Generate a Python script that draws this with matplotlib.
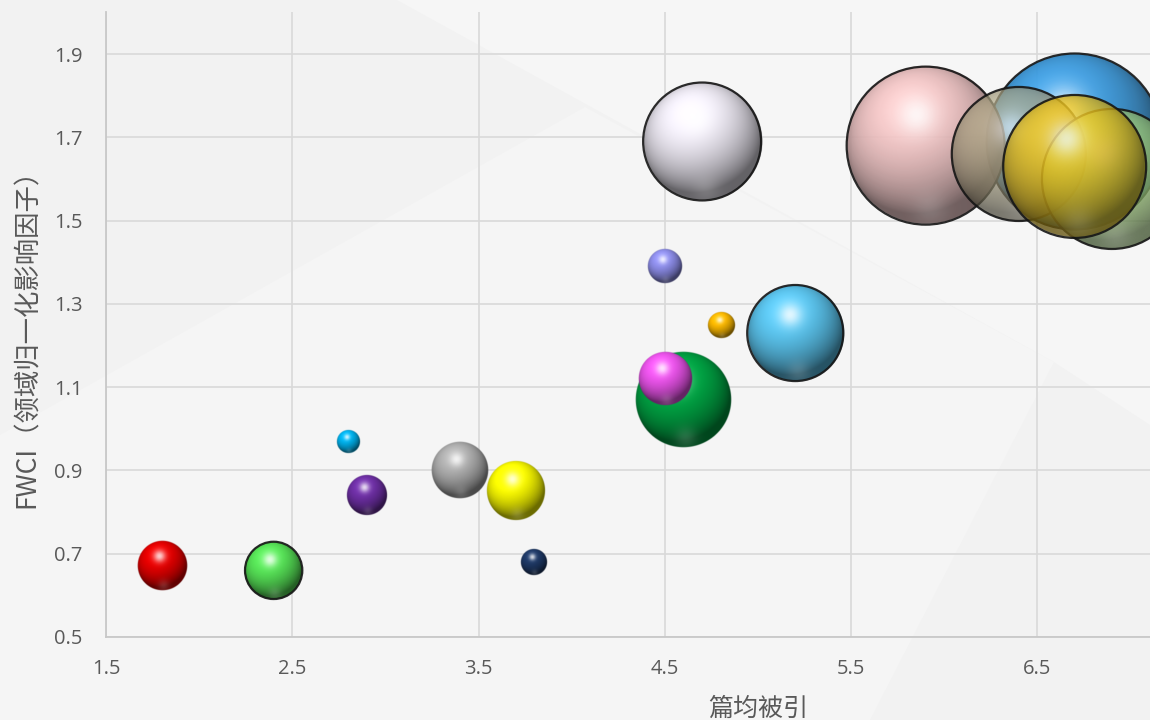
import numpy as np
import matplotlib
matplotlib.use("Agg")
import matplotlib.pyplot as plt
from matplotlib.patches import Polygon, Ellipse

plt.rcParams['font.family'] = ['Open Sans', 'Noto Sans CJK SC', 'DejaVu Sans']

# -------------------------
# data
# -------------------------
cites = [1.8, 2.4, 2.8, 2.9, 3.4, 3.7, 3.8, 4.5, 4.8, 4.6, 4.5, 5.2, 4.7,
         6.7, 5.9, 6.4, 6.9, 6.7]
fwci = [0.67, 0.66, 0.97, 0.84, 0.90, 0.85, 0.68, 1.39, 1.25, 1.07, 1.12, 1.23, 1.69,
        1.69, 1.68, 1.66, 1.60, 1.63]
bubble = [79, 106, 18, 52, 103, 111, 23, 39, 23, 294, 92, 298, 449,
          1000, 806, 580, 633, 660]

# only the ticks that fall inside the cropped picture
x_ticks = [1.5, 2.5, 3.5, 4.5, 5.5, 6.5]
y_ticks = [0.5, 0.7, 0.9, 1.1, 1.3, 1.5, 1.7, 1.9]
x_title = "篇均被引"
y_title = "FWCI（领域归一化影响因子）"

# styles
colors = ['#e80000', '#58e658', '#00b4f0', '#7030a8', '#b0b0b0', '#ffff00', '#1f3a68',
          '#9090ee', '#ffbb00', '#00a845', '#f055f0', '#5cc6f0', '#eeeaf4',
          '#3a9ade', '#eec0c0', '#ada584', '#a6d480', '#eec41c']
edged = [False, True, False, False, False, False, False,
         False, False, False, False, True, True,
         True, True, True, True, True]
alphas = [1, 1, 1, 1, 1, 1, 1, 1, 1, 1, 1, 1, 1,
          0.95, 0.92, 0.72, 0.8, 0.8]

W, H = 1150, 720
R_MAX = 88.0            # px radius of the biggest bubble
AX_L, AX_B, AX_R, AX_T = 106, 637, 1410, 12.4   # px, axes box (runs past the crop)


def fx(px):
    return px / W


def fy(py):
    return 1 - py / H


def sphere_rgba(rgb, r_px, alpha, ss=2):
    n = int(np.ceil(2 * r_px * ss)) + 2
    lin = (np.arange(n) + 0.5 - n / 2) / (r_px * ss)
    u, v = np.meshgrid(lin, -lin)
    d2 = u ** 2 + v ** 2
    z = np.sqrt(np.clip(1 - d2, 0, 1))
    L = np.array([-0.25, 0.5, 0.83])
    L = L / np.linalg.norm(L)
    diff = np.clip(u * L[0] + v * L[1] + z * L[2], 0, 1)
    shade = 0.42 + 0.66 * diff
    col = np.array(rgb)[None, None, :] * shade[..., None]
    hl = np.exp(-((u + 0.12) ** 2 + (v - 0.38) ** 2) / (2 * 0.17 ** 2))
    col = col * (1 - 0.8 * hl[..., None]) + 0.8 * hl[..., None]
    ref = np.exp(-((u - 0.05) ** 2 + (v + 0.8) ** 2) / (2 * 0.16 ** 2))
    col = col + 0.15 * ref[..., None] * (1 - col)
    a = np.clip((1 - np.sqrt(d2)) * r_px * ss, 0, 1) * alpha
    return np.dstack([np.clip(col, 0, 1), a]), n / (2 * ss)


fig = plt.figure(figsize=(W / 100, H / 100), dpi=100)
fig.patch.set_facecolor('#f2f2f2')

# background facets
bg = [
    ([(397, 0), (1150, 0), (1150, 425), (1054, 362)], '#f6f6f6'),
    ([(0, 435), (585, 107), (1054, 362), (870, 720), (0, 720)], '#f5f5f5'),
]
for pts, c in bg:
    fig.add_artist(Polygon([(fx(a), fy(b)) for a, b in pts], closed=True,
                           transform=fig.transFigure, fc=c, ec='none', zorder=-5))

ax = fig.add_axes([fx(AX_L), fy(AX_B), (AX_R - AX_L) / W, (AX_B - AX_T) / H])
ax.set_facecolor('none')

xlim = (1.5, 8.5)
ylim = (0.5, 2.0)
ppx = (AX_R - AX_L) / (xlim[1] - xlim[0])
ppy = (AX_B - AX_T) / (ylim[1] - ylim[0])

bmax = max(bubble)
for i, (x, y, b) in enumerate(zip(cites, fwci, bubble)):
    r = R_MAX * np.sqrt(b / bmax)
    rgb = matplotlib.colors.to_rgb(colors[i])
    img, half = sphere_rgba(rgb, r, alphas[i])
    hx, hy = half / ppx, half / ppy
    ax.imshow(img, extent=(x - hx, x + hx, y - hy, y + hy), origin='upper',
              aspect='auto', interpolation='bilinear', zorder=2 + i * 0.01)
    if edged[i]:
        ax.add_patch(Ellipse((x, y), 2 * r / ppx, 2 * r / ppy, fill=False,
                             ec='#151515', lw=1.6, alpha=0.9, zorder=2 + i * 0.01 + 0.005))

ax.set_xlim(*xlim)
ax.set_ylim(*ylim)
ax.set_xticks(x_ticks)
ax.set_yticks(y_ticks)
ax.set_xticklabels([f"{t:.1f}" for t in x_ticks])
ax.set_yticklabels([f"{t:.1f}" for t in y_ticks])
# grid line at 7.5 sits outside the crop anyway
ax.tick_params(length=0, labelsize=14.5, labelcolor='#595959')
ax.tick_params(axis='y', pad=17)
ax.tick_params(axis='x', pad=16)
ax.grid(True, color='#d9d9d9', lw=1.2)
ax.set_axisbelow(True)
for s in ['top', 'right']:
    ax.spines[s].set_visible(False)
for s in ['left', 'bottom']:
    ax.spines[s].set_color('#c8c8c8')
    ax.spines[s].set_linewidth(1.3)

fig.text(fx(758), fy(709), x_title, ha='center', va='center', fontsize=18,
         color='#595959', family=['Noto Sans CJK SC', 'DejaVu Sans'])
fig.text(fx(27), fy(332), y_title, ha='center', va='center', rotation=90,
         fontsize=19, color='#595959', family=['Noto Sans CJK SC', 'DejaVu Sans'])

fig.savefig('out.png', dpi=100, facecolor=fig.get_facecolor())
